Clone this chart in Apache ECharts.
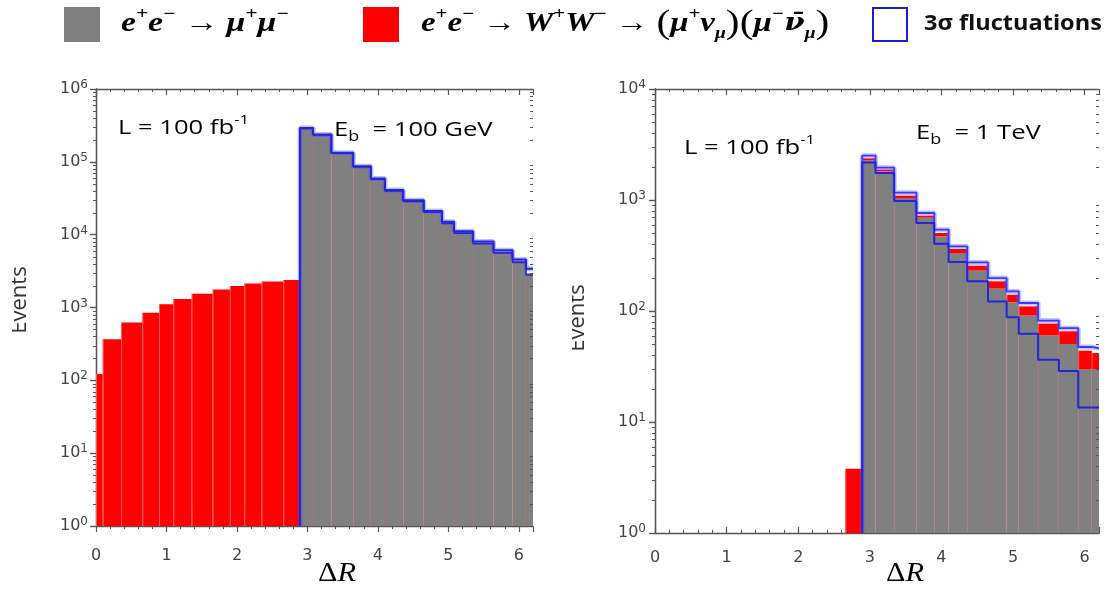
<!DOCTYPE html>
<html><head><meta charset="utf-8">
<script src="https://cdn.jsdelivr.net/npm/echarts@6/dist/echarts.min.js"></script>
<style>html,body{margin:0;padding:0;background:#fff}#c{width:1108px;height:592px}</style>
</head><body><div id="c"></div>
<script>
// ---- data ----
const binEdges = [0, 0.095, 0.355, 0.657, 0.894, 1.097, 1.357, 1.655, 1.9, 2.104, 2.35, 2.657, 2.894,
  3.08, 3.34, 3.65, 3.90, 4.10, 4.36, 4.65, 4.91, 5.08, 5.35, 5.64, 5.91, 6.10, 6.2];
const N = null;
// Left panel: E_b = 100 GeV
const wwLeft   = [122, 367, 620, 850, 1110, 1312, 1550, 1760, 1980, 2130, 2270, 2390, N, N, N, N, N, N, N, N, N, N, N, N, N, N];
const mumuLeft = [N, N, N, N, N, N, N, N, N, N, N, N, 290000, 235000, 132000, 86300, 58400, 40300, 29100, 20800, 14700, 10800, 7800, 5860, 4370, 2950];
const upLeft   = [N, N, N, N, N, N, N, N, N, N, N, N, 291600, 236500, 133100, 87200, 59100, 40900, 29600, 21200, 15100, 11100, 8060, 6090, 4570, 3400];
const dnLeft   = [N, N, N, N, N, N, N, N, N, N, N, N, 288400, 233500, 130900, 85400, 57700, 39700, 28600, 20400, 14300, 10500, 7540, 5630, 4170, 2800];
// Right panel: E_b = 1 TeV
const wwRight   = [N, N, N, N, N, N, N, N, N, N, N, 3.8, 90, 65, 54, 29, 34, 29, 25, 26, 20, 19, 17, 15.2, 13.9, 11.8];
const mumuRight = [N, N, N, N, N, N, N, N, N, N, N, N, 2280, 1810, 1040, 693, 470, 333, 231, 159, 120, 91, 60, 50.4, 30, 30];
const upRight   = [N, N, N, N, N, N, N, N, N, N, N, N, 2506, 1954, 1164, 764, 540, 382, 274, 198, 150, 118, 82, 70, 47.4, 46];
const dnRight   = [N, N, N, N, N, N, N, N, N, N, N, N, 2182, 1750, 979, 621, 404, 277, 185, 122, 88, 62.5, 36.4, 28.8, 13.5, 13.5];
const xTickLabels = ['0', '1', '2', '3', '4', '5', '6'];
const yDecadesLeft = 6, yDecadesRight = 4;

// ---- helpers ----
const XMAX = 6.2;
function histBins(values, bases) {
  const out = [];
  values.forEach((v, i) => {
    if (v == null) return;
    let lo = 1, hi = v;
    if (bases && bases[i] != null) { lo = bases[i]; hi = bases[i] + v; }
    out.push([binEdges[i], binEdges[i + 1], lo, hi]);
  });
  return out;
}
function stepPoints(values) {
  const pts = []; let first = true;
  values.forEach((v, i) => {
    if (v == null) return;
    if (first) { pts.push([binEdges[i], 1]); first = false; }
    pts.push([binEdges[i], v], [binEdges[i + 1], v]);
  });
  return pts;
}
function minorVals(decades) {
  const out = [];
  for (let k = 0; k < decades; k++) for (let m = 2; m <= 9; m++) out.push([0, m * Math.pow(10, k)]);
  return out;
}
function makeHist(fill, sep) {
  return function (params, api) {
    const x0 = api.value(0), x1 = api.value(1), lo = api.value(2), hi = api.value(3);
    const a = api.coord([x0, hi]), b = api.coord([x1, lo]);
    return { type: 'group', children: [
      { type: 'rect', shape: { x: a[0], y: a[1], width: b[0] - a[0], height: b[1] - a[1] }, style: { fill: fill } },
      { type: 'line', shape: { x1: a[0] + 0.5, y1: a[1], x2: a[0] + 0.5, y2: b[1] }, style: { stroke: sep, lineWidth: 1 } }
    ]};
  };
}
function makeMinor() {
  return function (params, api) {
    const v = api.value(1);
    const l = api.coord([0, v]), r = api.coord([XMAX, v]);
    const len = 3, yy = Math.round(l[1]) + 0.5;
    return { type: 'group', children: [
      { type: 'line', shape: { x1: l[0] - len, y1: yy, x2: l[0], y2: yy }, style: { stroke: '#555', lineWidth: 1 } },
      { type: 'line', shape: { x1: r[0] - len, y1: yy, x2: r[0], y2: yy }, style: { stroke: '#555', lineWidth: 1 } }
    ]};
  };
}
const AX = '#555';
function xBottom(grid, inside, margin) {
  return { gridIndex: grid, type: 'value', min: 0, max: XMAX, interval: 1, position: 'bottom',
    axisLine: { lineStyle: { color: AX, width: 1.3 } },
    axisTick: { inside: inside, length: 6, lineStyle: { color: AX, width: 1.2 } },
    minorTick: { show: true, splitNumber: 5, length: 3, lineStyle: { color: AX, width: 1 } },
    axisLabel: { margin: margin, color: '#444', fontSize: 16, fontFamily: 'DejaVu Sans', formatter: v => Number.isInteger(v) ? xTickLabels[v] : '' },
    splitLine: { show: false } };
}
function xTop(grid) {
  return { gridIndex: grid, type: 'value', min: 0, max: XMAX, interval: 1, position: 'top',
    axisLine: { lineStyle: { color: AX, width: 1.3 } },
    axisTick: { inside: true, length: 6, lineStyle: { color: AX, width: 1.2 } },
    minorTick: { show: true, splitNumber: 5, length: 3, lineStyle: { color: AX, width: 1 } },
    axisLabel: { show: false }, splitLine: { show: false } };
}
function yLeft(grid, max, margin) {
  return { gridIndex: grid, type: 'log', logBase: 10, min: 1, max: max, position: 'left',
    axisLine: { show: true, lineStyle: { color: AX, width: 1.3 } },
    axisTick: { show: true, length: 6, lineStyle: { color: AX, width: 1.2 } },
    axisLabel: { margin: margin, formatter: v => '{b|10}{e|' + Math.round(Math.log10(v)) + '}',
      rich: { b: { fontSize: 16, fontFamily: 'DejaVu Sans', color: '#444', lineHeight: 20 },
              e: { fontSize: 12, fontFamily: 'DejaVu Sans', color: '#444', lineHeight: 13, verticalAlign: 'top' } } },
    splitLine: { show: false } };
}
function yRight(grid, max) {
  return { gridIndex: grid, type: 'log', logBase: 10, min: 1, max: max, position: 'right',
    axisLine: { show: true, lineStyle: { color: AX, width: 1.3 } },
    axisTick: { show: true, inside: true, length: 6, lineStyle: { color: AX, width: 1.2 } },
    axisLabel: { show: false }, splitLine: { show: false } };
}
const BLUE = '#2424dc';
function lineS(xi, yi, pts, color, width, z) {
  return { type: 'line', xAxisIndex: xi, yAxisIndex: yi, data: pts, showSymbol: false, symbol: 'none',
    lineStyle: { color: color, width: width }, z: z, silent: true, animation: false };
}

const SF = 'Liberation Serif';
const serifM = { fontFamily: SF, fontStyle: 'italic', fontWeight: 'bold', fontSize: 27, color: '#111', lineHeight: 36 };
const supS = { fontFamily: SF, fontStyle: 'italic', fontWeight: 'bold', fontSize: 17, color: '#111', lineHeight: 20, verticalAlign: 'top' };
const subS = { fontFamily: SF, fontStyle: 'italic', fontWeight: 'bold', fontSize: 16, color: '#111', lineHeight: 16, verticalAlign: 'bottom' };
const richLegend = {
  m: serifM,
  nb: Object.assign({}, serifM, { fontFamily: 'DejaVu Serif', fontSize: 24 }),
  sup: supS,
  sub: subS,
  r: Object.assign({}, serifM, { color: '#ff0000' }),
  rsup: Object.assign({}, supS, { color: '#ff0000' }),
  p: { fontFamily: SF, fontSize: 34, color: '#111', lineHeight: 36 }
};
function annot(x, y, text, color) {
  return { type: 'text', x: x, y: y, scaleX: 1.28, z: 50, style: { text: text, x: 0, y: 0, verticalAlign: 'middle', align: 'left',
    rich: {
      a: { fontFamily: 'Open Sans', fontSize: 20, lineHeight: 28, color: color },
      s: { fontFamily: 'Open Sans', fontSize: 13, lineHeight: 15, verticalAlign: 'top', color: color },
      b: { fontFamily: 'Open Sans', fontSize: 14, lineHeight: 12, verticalAlign: 'bottom', color: color }
    } } };
}
const EB = '#c8282d';
function deltaR(x, y) {
  return { type: 'text', x: x, y: y, scaleX: 1.08, z: 50, style: { text: '{d|Δ}{r|R}', align: 'center', verticalAlign: 'middle',
    rich: { d: { fontFamily: SF, fontSize: 28, color: '#111' }, r: { fontFamily: SF, fontStyle: 'italic', fontSize: 28, color: '#111' } } } };
}
function eventsLabel(x, y) {
  return { type: 'text', x: x, y: y, rotation: Math.PI / 2, z: 40, style: { text: 'Events', align: 'center', verticalAlign: 'bottom', font: '22px "Open Sans"', fill: '#333' } };
}

const option = {
  animation: false,
  backgroundColor: '#fff',
  grid: [
    { left: 96, top: 89, width: 437, height: 437 },
    { left: 655, top: 89, width: 444, height: 444 }
  ],
  xAxis: [xBottom(0, false, 22), xTop(0), xBottom(1, true, 17), xTop(1)],
  yAxis: [yLeft(0, 1e6, 8), yRight(0, 1e6), yLeft(1, 1e4, 9), yRight(1, 1e4)],
  series: [
    // left panel
    { type: 'custom', xAxisIndex: 0, yAxisIndex: 0, renderItem: makeHist('#ff0000', 'rgba(255,170,170,0.55)'), data: histBins(wwLeft), z: 2, silent: true },
    { type: 'custom', xAxisIndex: 0, yAxisIndex: 0, renderItem: makeHist('#808080', 'rgba(200,90,90,0.35)'), data: histBins(mumuLeft), z: 2, silent: true },
    lineS(0, 0, stepPoints(upLeft), 'rgba(70,70,255,0.35)', 5, 3),
    lineS(0, 0, stepPoints(dnLeft), BLUE, 1.6, 4),
    lineS(0, 0, stepPoints(upLeft), BLUE, 2, 4),
    { type: 'custom', xAxisIndex: 0, yAxisIndex: 0, renderItem: makeMinor(), data: minorVals(yDecadesLeft), z: 10, silent: true },
    // right panel
    { type: 'custom', xAxisIndex: 2, yAxisIndex: 2, renderItem: makeHist('#808080', 'rgba(200,90,90,0.35)'), data: histBins(mumuRight), z: 2, silent: true },
    { type: 'custom', xAxisIndex: 2, yAxisIndex: 2, renderItem: makeHist('#ff0000', 'rgba(255,170,170,0.4)'), data: histBins(wwRight, mumuRight), z: 2, silent: true },
    lineS(2, 2, stepPoints(upRight), 'rgba(80,80,255,0.35)', 5, 3),
    lineS(2, 2, stepPoints(upRight), '#3a3aff', 1.8, 4),
    lineS(2, 2, stepPoints(dnRight), BLUE, 2, 4),
    { type: 'custom', xAxisIndex: 2, yAxisIndex: 2, renderItem: makeMinor(), data: minorVals(yDecadesRight), z: 10, silent: true }
  ],
  graphic: [
    // legend
    { type: 'rect', shape: { x: 64, y: 7, width: 36, height: 35 }, style: { fill: '#808080' } },
    { type: 'text', x: 121, y: 24, scaleX: 1.25, style: { text: '{m|e}{sup|+}{m|e}{sup|−}{m| → μ}{sup|+}{m|μ}{sup|−}', x: 0, y: 0, verticalAlign: 'middle', rich: richLegend } },
    { type: 'rect', shape: { x: 363, y: 7, width: 36, height: 35 }, style: { fill: '#ff0000' } },
    { type: 'text', x: 421, y: 24, scaleX: 1.22, style: { text: '{m|e}{sup|+}{m|e}{sup|−}{m| → W}{sup|+}{m|W}{sup|−}{m| → }{p|(}{r|μ}{rsup|+}{m|ν}{sub|μ}{p|)(}{r|μ}{rsup|−}{nb|ν̄}{sub|μ}{p|)}', x: 0, y: 0, verticalAlign: 'middle', rich: richLegend } },
    { type: 'rect', shape: { x: 873, y: 8, width: 34, height: 33 }, style: { fill: 'none', stroke: '#1c1cd0', lineWidth: 2 } },
    { type: 'text', x: 924, y: 24, scaleX: 1.07, style: { text: '3σ fluctuations', x: 0, y: 0, verticalAlign: 'middle', font: 'bold 22px "Open Sans"', fill: '#111' } },
    // annotations
    annot(118, 128, '{a|L = 100 fb}{s|-1}', '#1a1a1a'),
    annot(334, 130, '{a|E}{b|b}{a|  = 100 GeV}', EB),
    annot(684, 148, '{a|L = 100 fb}{s|-1}', '#1a1a1a'),
    annot(916, 133, '{a|E}{b|b}{a|  = 1 TeV}', EB),
    deltaR(337, 574),
    deltaR(905, 574),
    eventsLabel(31, 300),
    eventsLabel(589, 318),
    { type: 'rect', z: 60, shape: { x: 0, y: 230, width: 12, height: 150 }, style: { fill: '#fff' } },
    { type: 'rect', z: 60, shape: { x: 545, y: 240, width: 27, height: 160 }, style: { fill: '#fff' } }
  ]
};
const chart = echarts.init(document.getElementById('c'), null, { renderer: 'canvas' });
chart.setOption(option);
</script></body></html>
